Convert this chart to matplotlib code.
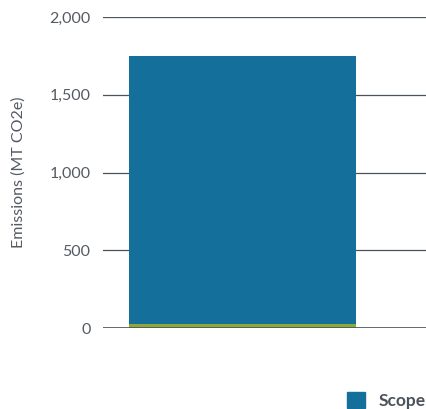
import matplotlib.pyplot as plt
from matplotlib.patches import Patch

categories = ['']
scope_small = [25]
scope_main = [1725]
yticks = [0, 500, 1000, 1500, 2000]
ytick_labels = ['0', '500', '1,000', '1,500', '2,000']

plt.rcParams['font.family'] = ['Lato', 'DejaVu Sans']

fig = plt.figure(figsize=(4.27, 4.09), dpi=100)
ax = fig.add_axes([103 / 427, 1 - 328 / 409, 324 / 427, 311 / 409])

x = range(len(categories))
ax.bar(x, scope_small, width=1.0, color='#8ea83c', zorder=3)
ax.bar(x, scope_main, width=1.0, bottom=scope_small, color='#156f9b', zorder=3)

ax.set_xlim(-0.6145, 0.8128)
ax.set_ylim(0, 2000)
ax.set_yticks(yticks)
ax.set_yticklabels(ytick_labels, fontsize=11.5, color='#555b62')
ax.set_xticks([])
ax.yaxis.grid(True, color='#4a525a', linewidth=0.9, zorder=0)
ax.axhline(0, color='#4a525a', linewidth=1.2, zorder=4)
ax.tick_params(axis='y', length=0, pad=9)
for s in ax.spines.values():
    s.set_visible(False)

ax.set_ylabel('Emissions (MT CO2e)', fontsize=11.5, color='#555b62', labelpad=17)

fig.legend(handles=[Patch(color='#156f9b')], labels=['Scope'],
           loc='lower right', bbox_to_anchor=(1.033, -0.037), frameon=False,
           prop={'weight': 'bold', 'size': 12.5}, labelcolor='#4a525a',
           handlelength=1.05, handleheight=1.05, handletextpad=0.75)

fig.savefig('out.png', dpi=100)
